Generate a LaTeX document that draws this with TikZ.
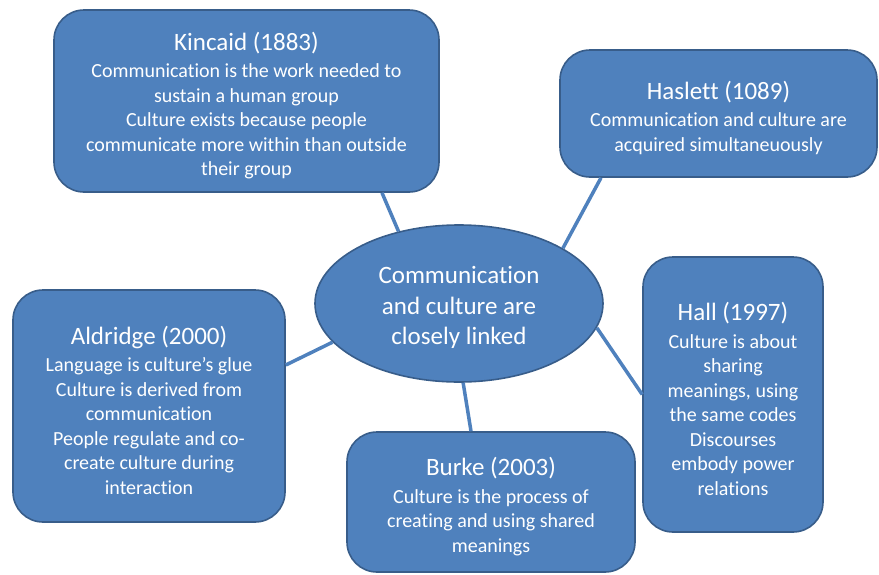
\documentclass[tikz,border=0pt]{standalone}
\usepackage{fontspec}
\setmainfont{Carlito}[Ligatures=NoCommon]
\usetikzlibrary{shapes.geometric}
\definecolor{ideafill}{RGB}{79,129,189}
\definecolor{ideaedge}{RGB}{56,93,138}
\newcommand{\ideatitle}[1]{{\fontsize{25}{29}\selectfont\rule{0pt}{27pt}#1}\\[3pt]}

\begin{document}
\begin{tikzpicture}[x=1pt,y=-1pt,
	idea/.style={draw=ideaedge,line width=1.6pt,fill=ideafill,text=white,rounded corners=30pt,align=center,inner sep=0pt,font=\fontsize{20}{24.5}\selectfont},
	hub/.style={ellipse,draw=ideaedge,line width=1.6pt,fill=ideafill,text=white,align=center,inner sep=0pt,font=\fontsize{25}{30.5}\selectfont},
	link/.style={draw=ideafill,line width=3.5pt}]
				\useasboundingbox (0,0) rectangle (879,574);
				\node[hub,minimum width=288pt,minimum height=157pt] (hub) at (459,303.5)
					{\rule{0pt}{26pt}Communication\\and culture are\\closely linked};
				\node[idea,minimum width=385pt,minimum height=182pt] (kincaid) at (246.5,101)
					{\ideatitle{Kincaid (1883)}Communication is the work needed to\\sustain a human group\\Culture exists because people\\communicate more within than outside\\their group};
				\node[idea,minimum width=317pt,minimum height=127pt] (haslett) at (718.5,113.5)
					{\ideatitle{Haslett (1089)}Communication and culture are\\acquired simultaneuously};
				\node[idea,minimum width=272pt,minimum height=232pt] (aldridge) at (149,406)
					{\ideatitle{Aldridge (2000)}Language is culture’s glue\\Culture is derived from\\communication\\People regulate and co-\\create culture during\\interaction};
				\node[idea,minimum width=288pt,minimum height=140pt] (burke) at (491,502)
					{\ideatitle{Burke (2003)}Culture is the process of\\creating and using shared\\meanings};
				\node[idea,minimum width=180pt,minimum height=275pt] (hall) at (733,394.5)
					{\ideatitle{Hall (1997)}Culture is about\\sharing\\meanings, using\\the same codes\\Discourses\\embody power\\relations};
				\path[link]
				([xshift=135.5pt]kincaid.south) edge (hub.130.5)
				([xshift=-117.5pt]haslett.south) edge (hub.28)
				([yshift=41pt]aldridge.east) edge (hub.197)
				(hall.west) edge (hub.350)
				([xshift=-20pt]burke.north) edge (hub.273);
			\end{tikzpicture}
\end{document}
